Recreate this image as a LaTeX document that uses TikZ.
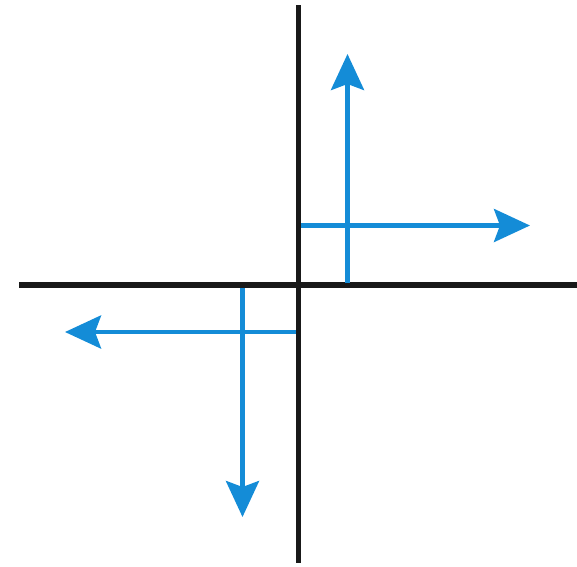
\documentclass[tikz,border=0pt]{standalone}
\usetikzlibrary{arrows.meta}
\definecolor{axisblue}{RGB}{20,140,215}
\begin{document}
\begin{tikzpicture}[x=1pt,y=-1pt,
  axis/.style={line width=5.5pt,black!90},
  vec/.style={line width=4.5pt,axisblue},
  vecarrow/.style={vec,-{Stealth[length=36pt,width=33pt,inset=6pt]}}]
\useasboundingbox (0,0) rectangle (577,566);
\coordinate (vt) at (298.5,5);
\coordinate (vb) at (298.5,563);
\coordinate (hl) at (19,285);
\coordinate (hr) at (577,285);
\coordinate (a1s) at (347.5,283);
\coordinate (a1e) at (347.5,54);
\coordinate (a2s) at (301,225.5);
\coordinate (a2e) at (530,225.5);
\coordinate (a3s) at (296,332);
\coordinate (a3e) at (65,332);
\coordinate (a4s) at (242.5,288);
\coordinate (a4e) at (242.5,517);
\draw[axis] (vt) -- (vb);
\draw[axis] (hl) -- (hr);
\draw[vecarrow] (a1s) -- (a1e);
\draw[vecarrow] (a2s) -- (a2e);
\draw[vecarrow] (a3s) -- (a3e);
\draw[vecarrow] (a4s) -- (a4e);
\end{tikzpicture}
\end{document}
